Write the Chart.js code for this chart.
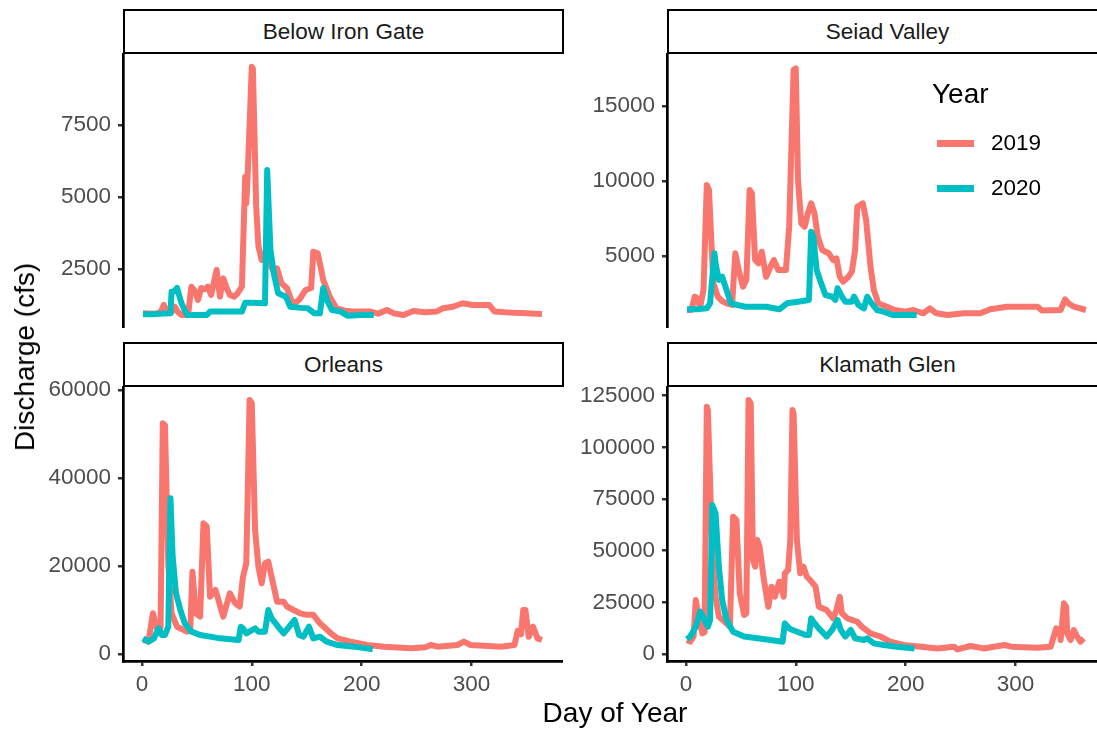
<!DOCTYPE html>
<html>
<head>
<meta charset="utf-8">
<script src="https://cdn.jsdelivr.net/npm/chart.js@4.4.1/dist/chart.umd.min.js"></script>
<style>
  body { margin: 0; width: 1097px; height: 733px; overflow: hidden; background: #fff; position: relative;
         font-family: "Liberation Sans", Arial, sans-serif; }
  canvas { position: absolute; }
  .strip { position: absolute; box-sizing: border-box; border: 2.7px solid #000; background: #fff;
           display: flex; align-items: center; justify-content: center; font-size: 22.5px; color: #1a1a1a; }
  .lbl { position: absolute; white-space: nowrap; line-height: 1; color: #000; }
  .key { position: absolute; width: 37px; height: 6.5px; }
</style>
</head>
<body>
<canvas id="p0"></canvas>
<canvas id="p1"></canvas>
<canvas id="p2"></canvas>
<canvas id="p3"></canvas>
<div class="lbl" style="left:615px;top:699px;font-size:28px;transform:translateX(-50%);">Day of Year</div>
<div class="lbl" style="left:25px;top:357px;font-size:28px;transform:translate(-50%,-50%) rotate(-90deg);">Discharge (cfs)</div>
<div id="legend"></div>

<script>
// Sites and years
const sites = ['Below Iron Gate', 'Seiad Valley', 'Orleans', 'Klamath Glen'];
const years = ['2019', '2020'];
const dayTicks = [0, 100, 200, 300];

// Below Iron Gate
const igDays19 = [1, 12, 17, 20, 23, 27, 30, 33, 36, 42, 45, 48, 51, 54, 57, 60, 63, 68, 71, 74, 77, 80, 84, 87, 91, 94, 95, 96, 100, 101, 104, 106, 109, 113, 116, 120, 123, 127, 130, 132, 137, 140, 143, 149, 154, 156, 160, 163, 165, 171, 177, 185, 193, 208, 215, 223, 230, 238, 247, 258, 268, 274, 283, 292, 301, 316, 321, 335, 350, 364];
const igQ19 = [960, 950, 1000, 1250, 980, 1000, 1190, 1000, 900, 900, 1885, 1750, 1424, 1840, 1800, 1885, 1600, 2465, 1540, 2175, 1850, 1600, 1540, 1650, 1885, 5705, 4780, 5500, 9525, 9460, 4663, 3300, 2812, 2927, 2700, 2400, 2523, 2003, 1900, 1840, 1309, 1350, 1424, 1770, 1840, 3100, 3045, 2500, 2118, 1540, 1135, 1050, 1020, 1020, 950, 1076, 950, 903, 1040, 1000, 1020, 1135, 1190, 1309, 1250, 1250, 1020, 985, 960, 940];
const igDays20 = [1, 10, 20, 26, 27, 29, 32, 36, 41, 50, 59, 62, 75, 91, 94, 100, 112, 114, 115, 117, 120, 124, 131, 135, 145, 151, 157, 162, 165, 169, 173, 181, 187, 200, 211];
const igQ20 = [925, 930, 950, 960, 1712, 1720, 1840, 1309, 903, 903, 903, 1020, 1020, 1020, 1330, 1330, 1309, 5937, 5000, 3160, 2350, 1656, 1540, 1190, 1150, 1135, 960, 960, 1840, 1367, 1076, 1020, 880, 900, 903];

// Seiad Valley
const svDays19 = [1, 5, 8, 10, 13, 16, 19, 21, 25, 29, 33, 37, 42, 45, 48, 52, 55, 58, 60, 63, 66, 69, 73, 77, 80, 84, 91, 94, 98, 100, 102, 105, 108, 111, 114, 117, 120, 124, 130, 134, 137, 140, 143, 148, 151, 154, 156, 161, 164, 168, 171, 175, 183, 190, 200, 207, 216, 222, 228, 238, 253, 268, 277, 292, 320, 324, 341, 345, 348, 353, 364];
const svQ19 = [1400, 1400, 2287, 2200, 1620, 2730, 9733, 9400, 3180, 2287, 2000, 1847, 1733, 5180, 4067, 2953, 3400, 9400, 9180, 4733, 4510, 5287, 3620, 4287, 4733, 4067, 4067, 6953, 17400, 17510, 10067, 7180, 6953, 7846, 8513, 7846, 6287, 5400, 5180, 4733, 4840, 3620, 3287, 3620, 3953, 5400, 8287, 8513, 7400, 4287, 2733, 1847, 1620, 1400, 1287, 1400, 1180, 1511, 1180, 1067, 1180, 1180, 1447, 1620, 1620, 1360, 1400, 2110, 1847, 1620, 1400];
const svDays20 = [1, 10, 19, 22, 26, 27, 30, 33, 36, 41, 47, 54, 73, 85, 92, 102, 112, 114, 116, 119, 122, 127, 133, 136, 138, 142, 145, 151, 153, 157, 162, 165, 169, 174, 180, 188, 210];
const svQ20 = [1447, 1450, 1511, 1847, 5180, 4510, 3400, 3620, 2953, 1847, 1733, 1620, 1620, 1447, 1847, 1953, 2067, 6620, 6287, 4067, 3400, 2400, 2287, 2067, 2847, 2287, 1953, 1953, 2287, 1733, 1511, 2287, 1847, 1400, 1287, 1067, 1067];

// Orleans
const orDays19 = [1, 6, 10, 13, 16, 17, 19, 21, 24, 27, 32, 41, 44, 46, 49, 53, 56, 59, 62, 67, 74, 80, 85, 89, 92, 95, 98, 100, 103, 106, 109, 112, 115, 118, 123, 129, 132, 138, 144, 150, 156, 162, 172, 178, 190, 205, 220, 245, 258, 263, 269, 287, 293, 299, 327, 339, 342, 345, 347, 349, 352, 356, 360, 364];
const orQ19 = [3182, 2800, 9250, 6200, 5200, 6000, 52440, 52000, 20600, 9250, 6200, 5075, 5300, 18700, 9250, 8480, 29700, 29000, 13030, 14550, 8480, 13800, 11520, 10800, 17570, 20600, 57730, 57000, 28180, 19840, 16060, 20600, 21000, 17570, 11900, 11900, 10800, 10000, 9250, 8900, 8900, 6970, 4700, 3560, 2800, 2045, 1670, 1290, 1520, 2045, 1670, 2045, 2800, 2045, 1670, 2045, 5300, 4500, 10000, 10000, 3900, 6200, 3560, 3180];
const orDays20 = [1, 6, 11, 15, 18, 21, 24, 26, 28, 31, 35, 39, 45, 53, 62, 71, 88, 90, 92, 95, 103, 106, 112, 115, 118, 124, 129, 134, 139, 143, 147, 152, 156, 162, 168, 178, 193, 210];
const orQ20 = [3560, 2800, 3560, 5830, 4330, 4330, 6200, 35400, 22100, 13800, 10000, 6970, 5075, 4330, 3940, 3560, 3180, 6200, 5830, 4700, 5830, 5075, 5075, 10000, 8100, 6200, 4700, 6200, 7730, 4330, 3940, 6200, 3560, 3940, 2800, 2045, 1670, 1060];

// Klamath Glen
const kgDays19 = [1, 4, 7, 9, 12, 15, 17, 19, 20, 24, 27, 30, 37, 40, 43, 46, 49, 53, 55, 57, 59, 61, 63, 65, 67, 71, 75, 78, 81, 85, 89, 90, 93, 95, 97, 98, 101, 104, 107, 110, 113, 118, 121, 128, 134, 137, 140, 142, 147, 156, 160, 168, 177, 186, 198, 214, 229, 244, 247, 259, 271, 290, 296, 320, 332, 337, 340, 341, 344, 346, 347, 350, 353, 356, 359, 362];
const kgQ19 = [6775, 5950, 8470, 26130, 16450, 10000, 10500, 119670, 118000, 48700, 27730, 18050, 14820, 13200, 66440, 64800, 29370, 18870, 19680, 122900, 121300, 45490, 42260, 55170, 51940, 35810, 22900, 32570, 27730, 34980, 27730, 39050, 40670, 55170, 118070, 116460, 55170, 39050, 42260, 37430, 35810, 32570, 22900, 21290, 17250, 21290, 27730, 19680, 17250, 15600, 13200, 10000, 8470, 5950, 4340, 3540, 2700, 3540, 2230, 3870, 2700, 4340, 3540, 3050, 3540, 12420, 11610, 6775, 24510, 22900, 10000, 6775, 11610, 8470, 5950, 7580];
const kgDays20 = [1, 4, 9, 13, 17, 20, 22, 24, 27, 30, 33, 37, 43, 53, 65, 77, 88, 90, 94, 97, 109, 112, 114, 116, 121, 128, 133, 138, 141, 145, 150, 154, 162, 165, 171, 180, 192, 208];
const kgQ20 = [7100, 8470, 13200, 20490, 16450, 13200, 16450, 72100, 68080, 42260, 26130, 16450, 10810, 8470, 7580, 6775, 5950, 14820, 12420, 11610, 9200, 9200, 17250, 15600, 12420, 8470, 11610, 16450, 11610, 8470, 11610, 7580, 6775, 7580, 5160, 4340, 3540, 2700];

// y axis ticks per panel
const igTicks = [2500, 5000, 7500];
const svTicks = [5000, 10000, 15000];
const orTicks = [0, 20000, 40000, 60000];
const kgTicks = [0, 25000, 50000, 75000, 100000, 125000];

const colors = ['#F8766D', '#00BFC4'];
const fontFamily = '"Liberation Sans", Arial, sans-serif';

// layout of the facet grid
const Y_AXIS_W = 120, X_AXIS_H = 50, PAD_T = 20;
const PANEL_W = 440, PANEL_H = 274, STRIP_H = 45;
const COL_X = [123, 667];
const ROW_Y = [54, 387];
const dayLimits = [-17.2, 383.2];

function toPoints(days, q) {
    return days.map((d, i) => ({ x: d, y: q[i] }));
}

function axisStyle() {
    return {
        grid: { display: true, drawOnChartArea: false, drawTicks: true, tickLength: 5, color: '#333333', lineWidth: 2.5 },
        border: { display: true, color: '#000000', width: 2.7 },
        ticks: {
            font: { family: fontFamily, size: 22.5 },
            color: '#4d4d4d',
            padding: 7,
            maxRotation: 0,
            autoSkip: false,
            callback: v => String(v)
        }
    };
}

function drawPanel(idx, series, yTicks, yLimits) {
    const col = idx % 2, row = Math.floor(idx / 2);
    const bottom = row === 1;
    const canvas = document.getElementById('p' + idx);
    canvas.width = Y_AXIS_W + PANEL_W;
    canvas.height = PAD_T + PANEL_H + (bottom ? X_AXIS_H : 0);
    canvas.style.left = (COL_X[col] - Y_AXIS_W) + 'px';
    canvas.style.top = (ROW_Y[row] - PAD_T) + 'px';

    // strip label on top of the panel
    const strip = document.createElement('div');
    strip.className = 'strip';
    strip.style.left = COL_X[col] + 'px';
    strip.style.top = (ROW_Y[row] - STRIP_H) + 'px';
    strip.style.width = (PANEL_W + 1) + 'px';
    strip.style.height = STRIP_H + 'px';
    strip.textContent = sites[idx];
    document.body.appendChild(strip);

    const xAxis = Object.assign(axisStyle(), {
        type: 'linear',
        display: bottom,
        min: dayLimits[0],
        max: dayLimits[1],
        afterBuildTicks: s => { s.ticks = dayTicks.map(v => ({ value: v })); },
        afterFit: s => { s.height = bottom ? X_AXIS_H : 0; s.paddingLeft = 0; s.paddingRight = 0; }
    });
    xAxis.ticks.padding = 5;

    const yAxis = Object.assign(axisStyle(), {
        type: 'linear',
        min: yLimits[0],
        max: yLimits[1],
        afterBuildTicks: s => { s.ticks = yTicks.map(v => ({ value: v })); },
        afterFit: s => { s.width = Y_AXIS_W; s.paddingTop = 0; s.paddingBottom = 0; }
    });

    new Chart(canvas, {
        type: 'line',
        data: {
            datasets: series.map((s, i) => ({
                label: years[i],
                data: toPoints(s[0], s[1]),
                borderColor: colors[i],
                order: 2 - i
            }))
        },
        options: {
            responsive: false,
            animation: false,
            devicePixelRatio: 1,
            layout: { padding: { top: PAD_T, left: 0, right: 0, bottom: 0 } },
            elements: {
                point: { radius: 0 },
                line: { borderWidth: 6, tension: 0, borderJoinStyle: 'round', borderCapStyle: 'butt', fill: false }
            },
            plugins: { legend: { display: false }, tooltip: { enabled: false } },
            scales: { x: xAxis, y: yAxis }
        }
    });
}

drawPanel(0, [[igDays19, igQ19], [igDays20, igQ20]], igTicks, [451, 9965]);
drawPanel(1, [[svDays19, svQ19], [svDays20, svQ20]], svTicks, [200, 18467]);
drawPanel(2, [[orDays19, orQ19], [orDays20, orQ20]], orTicks, [-1591, 60690]);
drawPanel(3, [[kgDays19, kgQ19], [kgDays20, kgQ20]], kgTicks, [-3387, 129200]);

// legend inside the Seiad Valley panel
const legend = document.getElementById('legend');
legend.innerHTML = '<div class="lbl" style="left:932px;top:80px;font-size:28px;">Year</div>';
years.forEach((y, i) => {
    const top = 143 + i * 45;
    legend.innerHTML +=
        '<div class="key" style="left:937px;top:' + (top - 3) + 'px;background:' + colors[i] + ';"></div>' +
        '<div class="lbl" style="left:991px;top:' + (top - 11) + 'px;font-size:22.5px;">' + y + '</div>';
});
</script>
</body>
</html>
